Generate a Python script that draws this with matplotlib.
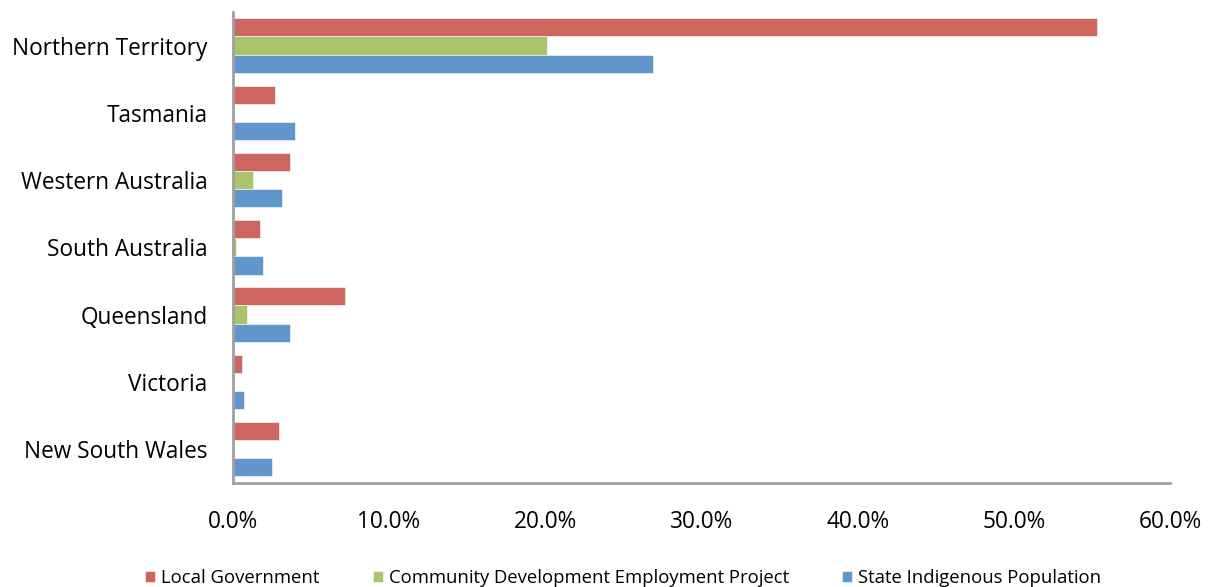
import numpy as np
import matplotlib.pyplot as plt
from matplotlib.ticker import FuncFormatter

plt.rcParams['font.family'] = ['Open Sans', 'DejaVu Sans']

regions = ['New South Wales', 'Victoria', 'Queensland', 'South Australia',
           'Western Australia', 'Tasmania', 'Northern Territory']
local_gov = [2.95, 0.62, 7.2, 1.73, 3.7, 2.7, 55.3]
cdep = [0.0, 0.0, 0.9, 0.2, 1.3, 0.0, 20.1]
indigenous_pop = [2.54, 0.72, 3.65, 1.97, 3.15, 4.0, 26.9]

series = [('Local Government', local_gov, '#CD665F'),
          ('Community Development Employment Project', cdep, '#AAC46C'),
          ('State Indigenous Population', indigenous_pop, '#6096CB')]

fig = plt.figure(figsize=(12.1, 5.87), dpi=100)
ax = fig.add_axes([0.1923, 0.1777, 0.7747, 0.802])

y = np.arange(len(regions))
h = 0.27
for i, (name, vals, col) in enumerate(series):
    ax.barh(y + h * (1 - i), vals, height=h, color=col, label=name,
            edgecolor='white', linewidth=0.4)

ax.set_xlim(0, 60)
ax.set_ylim(-0.5, len(regions) - 0.5)
ax.set_xticks(np.arange(0, 61, 10))
ax.xaxis.set_major_formatter(FuncFormatter(lambda v, p: f'{v:.1f}%'))
ax.set_yticks(y)
ax.set_yticklabels(regions)
ax.tick_params(axis='both', length=0, labelsize=16.3, colors='black')
ax.tick_params(axis='x', pad=20)
ax.tick_params(axis='y', pad=18)

for s in ['top', 'right']:
    ax.spines[s].set_visible(False)
for s in ['left', 'bottom']:
    ax.spines[s].set_color('#A0A0A0')
    ax.spines[s].set_linewidth(2)

handles, labels = ax.get_legend_handles_labels()
fig.legend(handles, labels, loc='lower center', bbox_to_anchor=(0.515, -0.028),
           ncol=3, frameon=False, fontsize=13.3, handlelength=0.55,
           handleheight=0.55, handletextpad=0.3, columnspacing=2.9)

fig.savefig('out.png', dpi=100)
